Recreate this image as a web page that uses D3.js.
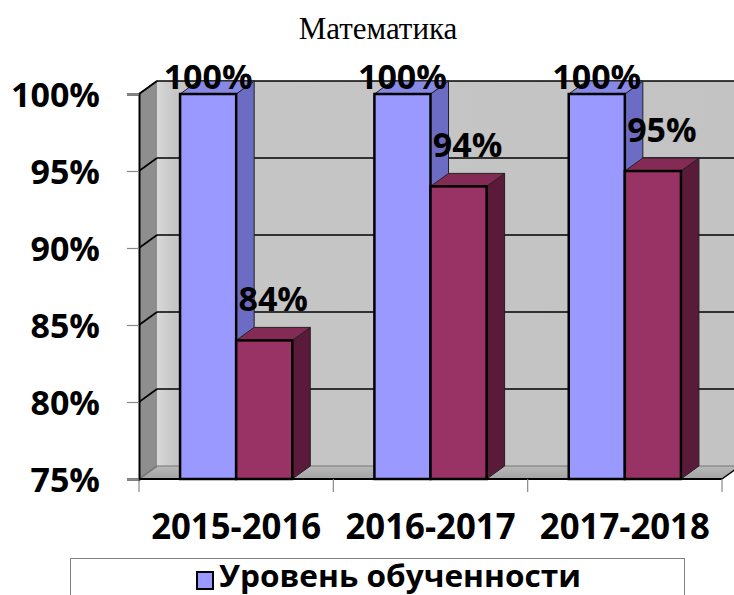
<!DOCTYPE html>
<html>
<head>
<meta charset="utf-8">
<script src="https://cdn.jsdelivr.net/npm/d3@7"></script>
<style>
html,body{margin:0;padding:0;background:#fff;}
svg{display:block;}
</style>
</head>
<body>
<svg id="chart" width="734" height="595"></svg>
<script>
const title = "Математика";
const categories = ["2015-2016", "2016-2017", "2017-2018"];
const seriesNames = ["Уровень обученности", "Качество знаний"];
const levelValues = [100, 100, 100];
const qualityValues = [84, 94, 95];
const yTicks = [75, 80, 85, 90, 95, 100];

const W = 734, H = 595;
const svg = d3.select("#chart");
const DX = 18, DY = -13;
const FONT = "'Open Sans', 'Noto Sans', sans-serif";

const x = d3.scaleBand().domain(categories).range([139, 722]).padding(0);
const xs = d3.scaleBand().domain(seriesNames).range([0, x.bandwidth()]).paddingInner(0).paddingOuter(0.732);
const y = d3.scaleLinear().domain([75, 100]).range([479, 94]);

const x0 = x.range()[0], x1 = x.range()[1];
const yb = y(75), yt = y(100);

const defs = svg.append("defs");
const gBack = defs.append("linearGradient").attr("id", "gBack").attr("x1", 0).attr("x2", 1).attr("y1", 0).attr("y2", 0);
gBack.append("stop").attr("offset", "0%").attr("stop-color", "#d8d8d8");
gBack.append("stop").attr("offset", "3%").attr("stop-color", "#c6c6c6");
gBack.append("stop").attr("offset", "100%").attr("stop-color", "#c3c3c3");
const gFloor = defs.append("linearGradient").attr("id", "gFloor").attr("x1", 0).attr("x2", 0).attr("y1", 0).attr("y2", 1);
gFloor.append("stop").attr("offset", "0%").attr("stop-color", "#b8b8b8");
gFloor.append("stop").attr("offset", "100%").attr("stop-color", "#a4a4a4");

// Title
svg.append("text").attr("x", 378).attr("y", 39).attr("text-anchor", "middle")
  .style("font-family", "'Liberation Serif','Times New Roman',serif").style("font-size", "31px")
  .attr("fill", "#000").text(title);

// Back wall
svg.append("rect").attr("x", x0 + DX).attr("y", yt + DY).attr("width", (x1 - x0)).attr("height", yb - yt)
  .attr("fill", "url(#gBack)");
// Left wall
svg.append("polygon").attr("points", [[x0, yb], [x0 + DX, yb + DY], [x0 + DX, yt + DY], [x0, yt]].join(" "))
  .attr("fill", "#8e8e8e");
// Floor
svg.append("polygon").attr("points", [[x0, yb], [x1, yb], [x1 + DX, yb + DY], [x0 + DX, yb + DY]].join(" "))
  .attr("fill", "url(#gFloor)");

// Gridlines
const grid = svg.append("g");
yTicks.forEach(t => {
  grid.append("line").attr("x1", x0 + DX).attr("x2", x1 + DX).attr("y1", y(t) + DY).attr("y2", y(t) + DY)
    .attr("stroke", t === 75 ? "#777" : "#000").attr("stroke-width", t === 75 ? 1 : 1.6);
  grid.append("line").attr("x1", x0).attr("x2", x0 + DX).attr("y1", y(t)).attr("y2", y(t) + DY)
    .attr("stroke", t === 75 ? "#777" : "#000").attr("stroke-width", 1.6);
});

// Bars
const seriesData = [
  { name: seriesNames[0], values: levelValues, front: "#9999ff", side: "#6c6cc4", top: "#8888e6" },
  { name: seriesNames[1], values: qualityValues, front: "#993366", side: "#5a1a3a", top: "#842b55" }
];
const bw = xs.bandwidth();
seriesData.forEach(s => {
  const g = svg.append("g");
  categories.forEach((c, i) => {
    const bx = x(c) + xs(s.name);
    const by = y(s.values[i]);
    g.append("polygon").attr("points", [[bx + bw, yb], [bx + bw + DX, yb + DY], [bx + bw + DX, by + DY], [bx + bw, by]].join(" "))
      .attr("fill", s.side).attr("stroke", "#222").attr("stroke-width", 1);
    g.append("polygon").attr("points", [[bx, by], [bx + bw, by], [bx + bw + DX, by + DY], [bx + DX, by + DY]].join(" "))
      .attr("fill", s.top).attr("stroke", "#222").attr("stroke-width", 1);
    g.append("rect").attr("x", bx).attr("y", by).attr("width", bw).attr("height", yb - by)
      .attr("fill", s.front).attr("stroke", "#000").attr("stroke-width", 2.5);
  });
});

// Floor front edge & x ticks
svg.append("line").attr("x1", x0).attr("x2", x1).attr("y1", yb).attr("y2", yb).attr("stroke", "#000").attr("stroke-width", 2);
svg.append("line").attr("x1", x1).attr("x2", x1 + DX).attr("y1", yb).attr("y2", yb + DY).attr("stroke", "#000").attr("stroke-width", 1.5);
const bounds = categories.map(c => x(c)).concat([x1]);
bounds.forEach(b => {
  svg.append("line").attr("x1", b).attr("x2", b).attr("y1", yb).attr("y2", yb + 13).attr("stroke", "#888").attr("stroke-width", 1.2);
});

// Y axis
const yAxis = d3.axisLeft(y).tickValues(yTicks).tickFormat(d => d + "%").tickSize(12).tickPadding(27);
const ya = svg.append("g").attr("transform", `translate(${x0},0)`).call(yAxis);
ya.select(".domain").attr("stroke", "#000").attr("stroke-width", 2);
ya.selectAll(".tick line").attr("stroke", "#888").attr("stroke-width", 1.2);
ya.selectAll(".tick text").attr("fill", "#000").attr("dy", "0.36em")
  .style("font-family", FONT).style("font-size", "34px").style("font-weight", "bold");
svg.append("line").attr("x1", x0).attr("x2", x0 + DX).attr("y1", yt).attr("y2", yt + DY).attr("stroke", "#000").attr("stroke-width", 1.5);

// X axis labels
const xAxis = d3.axisBottom(x).tickSize(0).tickPadding(0);
const xa = svg.append("g").attr("transform", `translate(0,${yb})`).call(xAxis);
xa.select(".domain").remove();
xa.selectAll(".tick text").attr("fill", "#000").attr("y", 60).attr("dy", 0)
  .attr("textLength", 170).attr("lengthAdjust", "spacingAndGlyphs")
  .style("font-family", FONT).style("font-size", "35px").style("font-weight", "bold");

// Data labels
const labelG = svg.append("g");
seriesData.forEach((s, si) => {
  categories.forEach((c, i) => {
    const bx = x(c) + xs(s.name);
    const by = y(s.values[i]);
    const ly = Math.max(by - 29, 89);
    labelG.append("text").attr("x", bx + bw / 2 + (si === 1 ? 9 : 0)).attr("y", ly).attr("text-anchor", "middle")
      .style("font-family", FONT).style("font-size", "34px").style("font-weight", "bold").attr("fill", "#000")
      .text(s.values[i] + "%");
  });
});

// Legend
const lg = svg.append("g");
lg.append("rect").attr("x", 70.5).attr("y", 558.5).attr("width", 614).attr("height", 60)
  .attr("fill", "#fff").attr("stroke", "#808080").attr("stroke-width", 1);
lg.append("rect").attr("x", 197).attr("y", 572).attr("width", 16).attr("height", 17)
  .attr("fill", seriesData[0].front).attr("stroke", "#000").attr("stroke-width", 2);
lg.append("text").attr("x", 219).attr("y", 587)
  .attr("textLength", 362).attr("lengthAdjust", "spacingAndGlyphs")
  .style("font-family", FONT).style("font-size", "30px").style("font-weight", "bold").attr("fill", "#000")
  .text(seriesNames[0]);
</script>
</body>
</html>
